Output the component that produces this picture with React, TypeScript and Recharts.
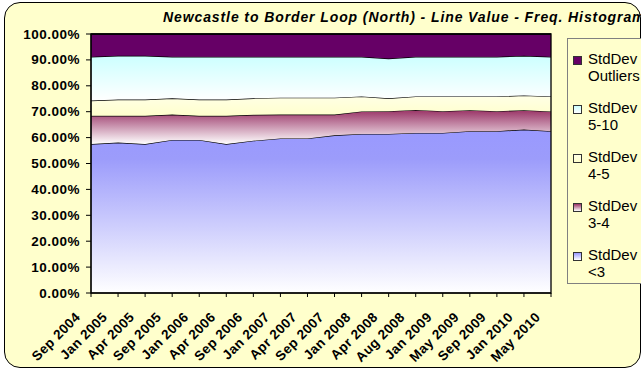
import { AreaChart, Area, XAxis, YAxis, ReferenceArea } from 'recharts'

const months = [
  'Sep 2004', 'Jan 2005', 'Apr 2005', 'Sep 2005', 'Jan 2006', 'Apr 2006', 'Sep 2006', 'Jan 2007', 'Apr 2007',
  'Sep 2007', 'Jan 2008', 'Apr 2008', 'Aug 2008', 'Jan 2009', 'May 2009', 'Sep 2009', 'Jan 2010', 'May 2010',
]
const under3 = [57.5, 58.1, 57.5, 59.1, 59.1, 57.5, 58.8, 59.7, 59.7, 60.9, 61.4, 61.4, 61.8, 61.8, 62.5, 62.5, 63.1, 62.5]
const sd3to4 = [10.9, 10.3, 10.9, 9.8, 9.3, 10.9, 10.0, 9.2, 9.2, 8.0, 8.7, 8.8, 8.9, 8.4, 8.1, 7.7, 7.5, 7.6]
const sd4to5 = [5.9, 6.3, 6.3, 6.3, 6.3, 6.3, 6.4, 6.5, 6.5, 6.5, 5.8, 5.0, 5.2, 5.7, 5.3, 5.7, 5.7, 5.8]
const sd5to10 = [16.9, 16.9, 16.9, 16.0, 16.5, 16.5, 16.0, 15.8, 15.8, 15.8, 15.3, 15.3, 15.3, 15.3, 15.3, 15.3, 15.3, 15.3]
const outliers = [8.8, 8.4, 8.4, 8.8, 8.8, 8.8, 8.8, 8.8, 8.8, 8.8, 8.8, 9.5, 8.8, 8.8, 8.8, 8.8, 8.4, 8.8]
const yTicks = [0, 10, 20, 30, 40, 50, 60, 70, 80, 90, 100]

const data = months.map((m, i) => ({
  month: m,
  under3: under3[i],
  sd3to4: sd3to4[i],
  sd4to5: sd4to5[i],
  sd5to10: sd5to10[i],
  outliers: outliers[i],
}))

// bottom to top, with gradient stops (top colour, bottom colour)
const series = [
  { key: 'under3', label: ['StdDev', '<3'], top: '#9999FF', bottom: '#FFFFFF' },
  { key: 'sd3to4', label: ['StdDev', '3-4'], top: '#993366', bottom: '#FFFFFF' },
  { key: 'sd4to5', label: ['StdDev', '4-5'], top: '#FFFFE6', bottom: '#FFFFCC' },
  { key: 'sd5to10', label: ['StdDev', '5-10'], top: '#CCFFFF', bottom: '#FFFFFF' },
  { key: 'outliers', label: ['StdDev', 'Outliers'], top: '#660066', bottom: '#660066' },
]

const font = '"Liberation Sans", Arial, sans-serif'

function YTick({ x, y, payload }: any) {
  return (
    <text x={x} y={y} dy={4.5} textAnchor="end" fontFamily={font} fontWeight="bold" fontSize={13.5} letterSpacing={0.5} fill="#000">
      {payload.value.toFixed(2)}%
    </text>
  )
}

function XTick({ x, y, payload }: any) {
  return (
    <text
      transform={`translate(${x - 10}, ${y + 19}) rotate(-45)`}
      textAnchor="end"
      fontFamily={font}
      fontWeight="bold"
      fontSize={13.5}
      letterSpacing={0.4}
      fill="#000"
    >
      {payload.value}
    </text>
  )
}

export default function App() {
  return (
    <div style={{ position: 'absolute', left: 0, top: 0, width: 641, height: 370, overflow: 'hidden' }}>
      <div
        style={{
          position: 'absolute', left: 4, top: 2, width: 637, height: 366, boxSizing: 'border-box',
          border: '1.5px solid #000', borderRadius: 16, background: '#FFFFCC',
        }}
      />
      <div
        style={{
          position: 'absolute', left: 163, top: 9, whiteSpace: 'nowrap', fontFamily: font,
          fontWeight: 'bold', fontStyle: 'italic', fontSize: 14, letterSpacing: 0.9, color: '#000',
        }}
      >
        Newcastle to Border Loop (North) - Line Value - Freq. Histogram
      </div>

      <div style={{ position: 'absolute', left: 0, top: 0 }}>
        <AreaChart width={641} height={370} data={data} margin={{ top: 34, right: 90, bottom: 0, left: 0 }}>
          <defs>
            {series.map(s => (
              <linearGradient key={s.key} id={`grad-${s.key}`} x1="0" y1="0" x2="0" y2="1">
                <stop offset="0%" stopColor={s.top} />
                {s.key === 'under3' && <stop offset="18%" stopColor="#9C9CFB" />}
                <stop offset="100%" stopColor={s.bottom} />
              </linearGradient>
            ))}
          </defs>
          <XAxis
            dataKey="month"
            height={77}
            interval={0}
            tick={<XTick />}
            tickSize={4}
            axisLine={{ stroke: '#000' }}
            tickLine={{ stroke: '#000' }}
          />
          <YAxis
            width={91}
            domain={[0, 100]}
            ticks={yTicks}
            interval={0}
            tick={<YTick />}
            tickSize={5}
            tickMargin={6}
            axisLine={{ stroke: '#000' }}
            tickLine={{ stroke: '#000' }}
          />
          {series.map(s => (
            <Area
              key={s.key}
              type="linear"
              dataKey={s.key}
              stackId="a"
              stroke="#000"
              strokeWidth={1.3}
              fill={`url(#grad-${s.key})`}
              fillOpacity={1}
              isAnimationActive={false}
            />
          ))}
          <ReferenceArea x1={months[0]} x2={months[months.length - 1]} y1={0} y2={100} fill="none" stroke="#000" strokeWidth={1.3} />
        </AreaChart>
      </div>

      <div
        style={{
          position: 'absolute', left: 567, top: 38, width: 90, height: 246, boxSizing: 'border-box',
          border: '1px solid #808080', background: '#FFFFCC', fontFamily: font, fontSize: 15, color: '#000',
        }}
      >
        {[...series].reverse().map((s, i) => (
          <div key={s.key} style={{ position: 'absolute', left: 5, top: 11 + i * 49, lineHeight: '17px' }}>
            <span
              style={{
                position: 'absolute', left: 0, top: 6, width: 7, height: 7, border: '1px solid #333',
                background: `linear-gradient(${s.top}, ${s.bottom})`,
              }}
            />
            <div style={{ marginLeft: 15 }}>{s.label[0]}</div>
            <div style={{ marginLeft: 15 }}>{s.label[1]}</div>
          </div>
        ))}
      </div>
    </div>
  )
}
